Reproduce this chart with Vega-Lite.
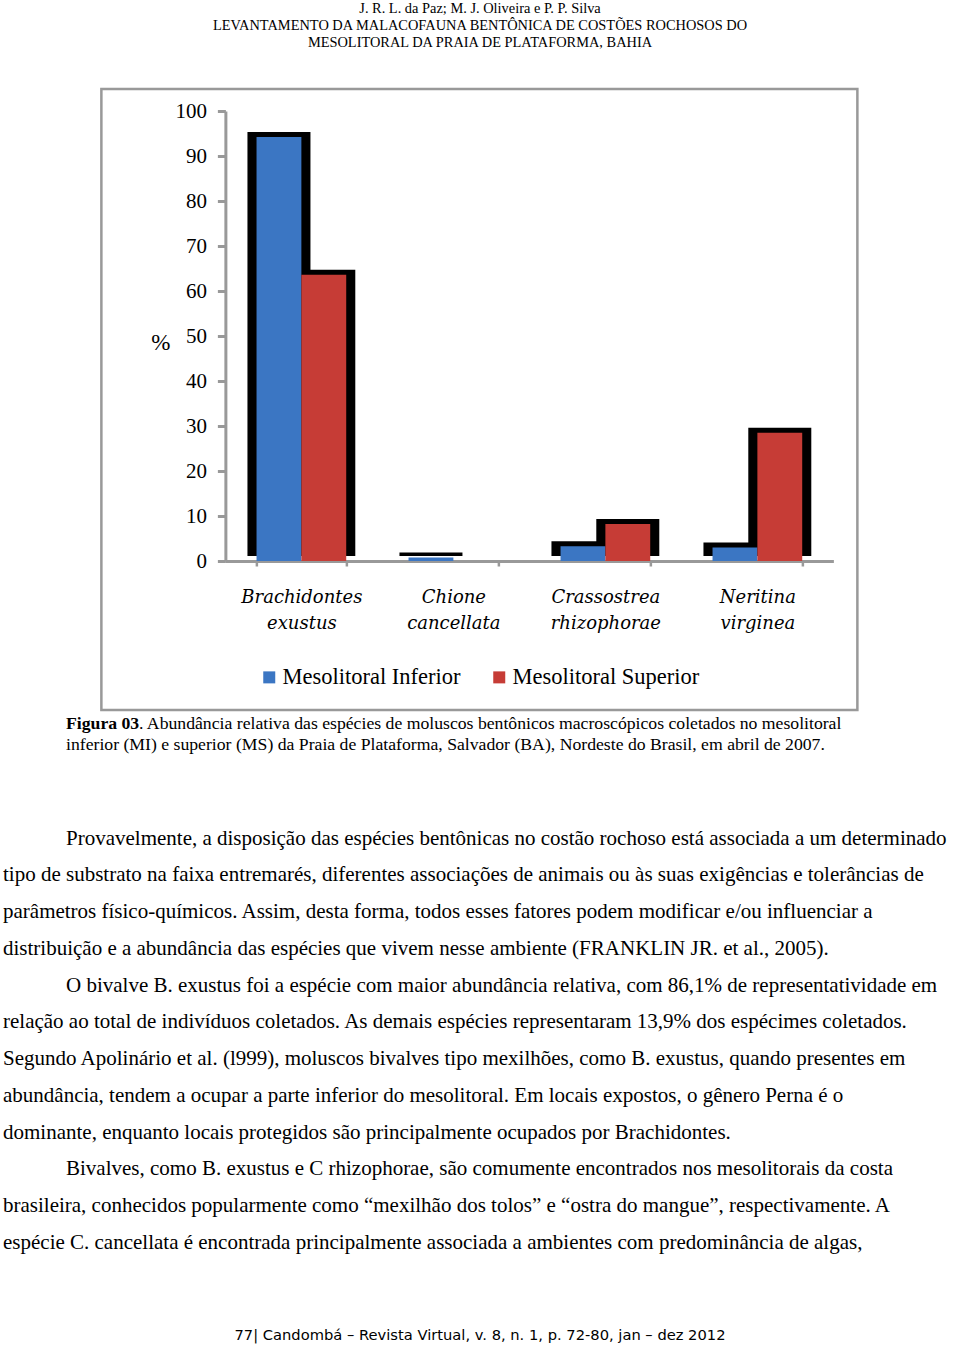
{
  "$schema": "https://vega.github.io/schema/vega-lite/v6.json",
  "padding": 0,
  "spacing": 0,
  "center": true,
  "background": "white",
  "config": {
    "view": {"stroke": null},
    "text": {"font": "Liberation Serif", "color": "black"}
  },
  "vconcat": [
    {
      "width": 960,
      "height": 85,
      "data": {"values": [
        {"i": 1, "texto": "J. R. L. da Paz; M. J. Oliveira e P. P. Silva"},
        {"i": 2, "texto": "LEVANTAMENTO DA MALACOFAUNA BENTÔNICA DE COSTÕES ROCHOSOS DO"},
        {"i": 3, "texto": "MESOLITORAL DA PRAIA DE PLATAFORMA, BAHIA"}
      ]},
      "mark": {"type": "text", "font": "Liberation Serif", "fontSize": 14.4, "align": "center", "baseline": "alphabetic"},
      "encoding": {
        "y": {"field": "i", "type": "ordinal", "axis": null, "scale": {"range": [10.7, 44.5], "padding": 0}},
        "text": {"field": "texto"}
      }
    },
    {
      "width": 756,
      "height": 621,
      "view": {"stroke": "#999999", "strokeWidth": 2.5},
      "data": {"values": [
        {"especie": "Brachidontes exustus", "zona": "Mesolitoral Inferior", "pct": 94.2},
        {"especie": "Brachidontes exustus", "zona": "Mesolitoral Superior", "pct": 63.6},
        {"especie": "Chione cancellata", "zona": "Mesolitoral Inferior", "pct": 0.8},
        {"especie": "Crassostrea rhizophorae", "zona": "Mesolitoral Inferior", "pct": 3.3},
        {"especie": "Crassostrea rhizophorae", "zona": "Mesolitoral Superior", "pct": 8.2},
        {"especie": "Neritina virginea", "zona": "Mesolitoral Inferior", "pct": 3.0},
        {"especie": "Neritina virginea", "zona": "Mesolitoral Superior", "pct": 28.5}
      ]},
      "encoding": {
        "x": {
          "field": "especie", "type": "nominal",
          "sort": ["Brachidontes exustus", "Chione cancellata", "Crassostrea rhizophorae", "Neritina virginea"],
          "scale": {"range": [124, 732], "paddingInner": 0.41, "paddingOuter": 0.205},
          "axis": {
            "title": null, "orient": "bottom", "offset": -149,
            "labelAngle": 0, "labelExpr": "split(datum.label, ' ')",
            "labelFont": "DejaVu Serif", "labelFontStyle": "italic", "labelFontSize": 18,
            "labelColor": "black", "labelLineHeight": 26, "labelBaseline": "alphabetic",
            "labelPadding": 36, "tickBand": "extent", "tickSize": 5, "tickWidth": 2.5,
            "tickColor": "#999999", "domainColor": "#999999", "domainWidth": 3, "grid": false
          }
        },
        "xOffset": {"field": "zona", "type": "nominal", "sort": ["Mesolitoral Inferior", "Mesolitoral Superior"]},
        "y": {
          "field": "pct", "type": "quantitative",
          "scale": {"domain": [0, 100], "range": [472, 22], "nice": false},
          "axis": {
            "title": "%", "offset": -124, "values": [0, 10, 20, 30, 40, 50, 60, 70, 80, 90, 100],
            "grid": false, "labelFont": "Liberation Serif", "labelFontSize": 21, "labelColor": "black",
            "labelPadding": 11, "tickSize": 8, "tickWidth": 3, "tickColor": "#999999",
            "domainColor": "#999999", "domainWidth": 3,
            "titleFont": "Liberation Serif", "titleFontSize": 23, "titleFontWeight": "normal",
            "titleAngle": 0, "titleX": -65, "titleY": 253, "titleAlign": "center", "titleBaseline": "middle", "titleColor": "black"
          }
        }
      },
      "layer": [
        {
          "mark": {"type": "bar", "color": "black", "size": 63, "yOffset": -5}
        },
        {
          "mark": {"type": "bar"},
          "encoding": {
            "color": {
              "field": "zona", "type": "nominal",
              "scale": {"domain": ["Mesolitoral Inferior", "Mesolitoral Superior"], "range": ["#3b76c3", "#c63c36"]},
              "legend": {
                "title": null, "orient": "none", "legendX": 258, "legendY": 664, "direction": "horizontal",
                "symbolType": "square", "symbolSize": 144, "symbolStrokeWidth": 0,
                "labelFont": "Liberation Serif", "labelFontSize": 22.5, "labelColor": "black",
                "labelOffset": 2, "columnPadding": 27, "labelLimit": 400
              }
            }
          }
        }
      ]
    },
    {
      "width": 960,
      "height": 66,
      "encoding": {
        "y": {"field": "linha", "type": "ordinal", "axis": null, "scale": {"range": [17, 38], "padding": 0}},
        "x": {"field": "pos", "type": "nominal", "axis": null, "scale": {"type": "point", "domain": ["inicio", "resto"], "range": [66, 139], "padding": 0}},
        "text": {"field": "texto"}
      },
      "layer": [
        {
          "data": {"values": [{"linha": 1, "pos": "inicio", "texto": "Figura 03"}]},
          "mark": {"type": "text", "font": "Liberation Serif", "fontSize": 17.7, "fontWeight": "bold", "align": "left", "baseline": "alphabetic"}
        },
        {
          "data": {"values": [
            {"linha": 1, "pos": "resto", "texto": ". Abundância relativa das espécies de moluscos bentônicos macroscópicos coletados no mesolitoral"},
            {"linha": 2, "pos": "inicio", "texto": "inferior (MI) e superior (MS) da Praia de Plataforma, Salvador (BA), Nordeste do Brasil, em abril de 2007."}
          ]},
          "mark": {"type": "text", "font": "Liberation Serif", "fontSize": 17.7, "align": "left", "baseline": "alphabetic"}
        }
      ]
    },
    {
      "width": 960,
      "height": 520,
      "data": {"values": [
        {"linha": 1, "recuo": "sim", "texto": "Provavelmente, a disposição das espécies bentônicas no costão rochoso está associada a um determinado"},
        {"linha": 2, "recuo": "não", "texto": "tipo de substrato na faixa entremarés, diferentes associações de animais ou às suas exigências e tolerâncias de"},
        {"linha": 3, "recuo": "não", "texto": "parâmetros físico-químicos. Assim, desta forma, todos esses fatores podem modificar e/ou influenciar a"},
        {"linha": 4, "recuo": "não", "texto": "distribuição e a abundância das espécies que vivem nesse ambiente (FRANKLIN JR. et al., 2005)."},
        {"linha": 5, "recuo": "sim", "texto": "O bivalve B. exustus foi a espécie com maior abundância relativa, com 86,1% de representatividade em"},
        {"linha": 6, "recuo": "não", "texto": "relação ao total de indivíduos coletados. As demais espécies representaram 13,9% dos espécimes coletados."},
        {"linha": 7, "recuo": "não", "texto": "Segundo Apolinário et al. (l999), moluscos bivalves tipo mexilhões, como B. exustus, quando presentes em"},
        {"linha": 8, "recuo": "não", "texto": "abundância, tendem a ocupar a parte inferior do mesolitoral. Em locais expostos, o gênero Perna é o"},
        {"linha": 9, "recuo": "não", "texto": "dominante, enquanto locais protegidos são principalmente ocupados por Brachidontes."},
        {"linha": 10, "recuo": "sim", "texto": "Bivalves, como B. exustus e C rhizophorae, são comumente encontrados nos mesolitorais da costa"},
        {"linha": 11, "recuo": "não", "texto": "brasileira, conhecidos popularmente como “mexilhão dos tolos” e “ostra do mangue”, respectivamente. A"},
        {"linha": 12, "recuo": "não", "texto": "espécie C. cancellata é encontrada principalmente associada a ambientes com predominância de algas,"}
      ]},
      "mark": {"type": "text", "font": "Liberation Serif", "fontSize": 21, "align": "left", "baseline": "alphabetic"},
      "encoding": {
        "y": {"field": "linha", "type": "ordinal", "axis": null, "scale": {"range": [66.7, 471], "padding": 0}},
        "x": {"field": "recuo", "type": "nominal", "axis": null, "scale": {"type": "point", "domain": ["não", "sim"], "range": [3, 66], "padding": 0}},
        "text": {"field": "texto"}
      }
    },
    {
      "width": 960,
      "height": 48,
      "data": {"values": [{"linha": 1, "texto": "77| Candombá – Revista Virtual, v. 8, n. 1, p. 72-80, jan – dez 2012"}]},
      "mark": {"type": "text", "font": "DejaVu Sans", "fontSize": 14.7, "align": "center", "baseline": "alphabetic"},
      "encoding": {
        "y": {"field": "linha", "type": "ordinal", "axis": null, "scale": {"range": [42, 42], "padding": 0}},
        "text": {"field": "texto"}
      }
    }
  ]
}
